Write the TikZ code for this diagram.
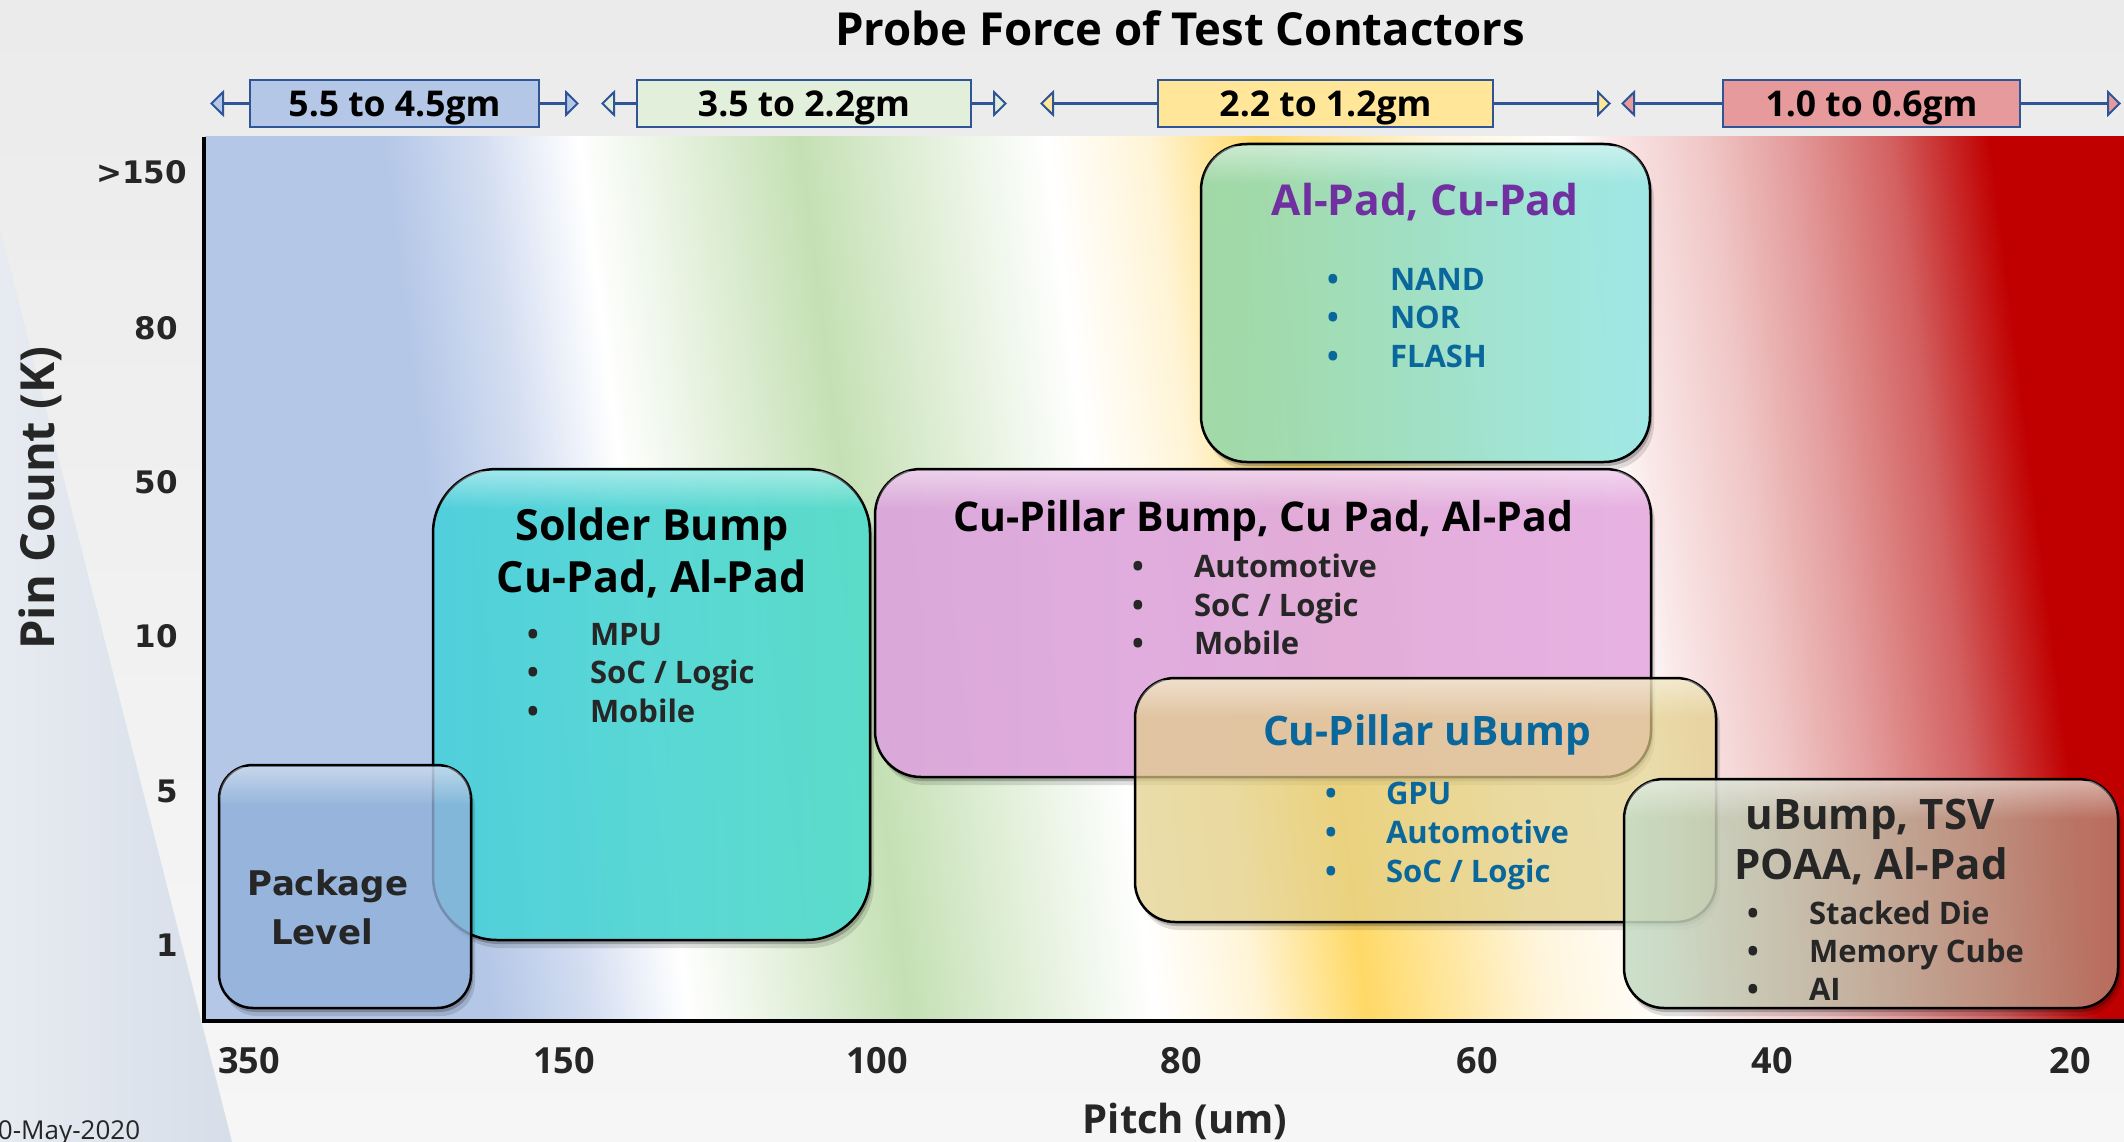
\documentclass[tikz,border=0pt]{standalone}
\usepackage{fontspec}
\setmainfont{Open Sans}
\newfontfamily\wideface{DejaVu Sans}
\usetikzlibrary{arrows.meta,fadings}

% page and plot colours
\definecolor{pageTop}{HTML}{EBEBEB}
\definecolor{pageBot}{HTML}{F6F6F6}
\definecolor{wedgeA}{HTML}{E7EBF1}
\definecolor{wedgeB}{HTML}{D6DEE9}
\definecolor{bandBlue}{HTML}{B4C7E7}
\definecolor{bandBlueLt}{HTML}{D3DDF1}
\definecolor{bandGreen}{HTML}{C5E0B4}
\definecolor{bandCream}{HTML}{FFF4D6}
\definecolor{bandYellow}{HTML}{FFD966}
\definecolor{bandCreamB}{HTML}{FFF5DC}
\definecolor{bandPinkA}{HTML}{FAE8E8}
\definecolor{bandPinkB}{HTML}{F0C6C6}
\definecolor{bandPinkC}{HTML}{E39A9A}
\definecolor{bandRedA}{HTML}{D36060}
\definecolor{bandRed}{HTML}{C00000}
% force labels
\definecolor{forceEdge}{HTML}{2F5597}
\definecolor{forceA}{HTML}{B4C7E7}
\definecolor{forceB}{HTML}{E2EFDA}
\definecolor{forceC}{HTML}{FFE699}
\definecolor{forceD}{HTML}{E69A9B}
% text
\definecolor{inkdark}{HTML}{262626}
\definecolor{padPurple}{HTML}{7030A0}
\definecolor{appBlue}{HTML}{0A679C}
% technology cards
\definecolor{pkgFill}{HTML}{90B1DA}
\definecolor{solderL}{HTML}{4CD0DC}
\definecolor{solderM}{HTML}{6EE8E8}
\definecolor{solderR}{HTML}{56DCCB}
\definecolor{alpadL}{HTML}{9CD8A6}
\definecolor{alpadM}{HTML}{A0DDC4}
\definecolor{alpadR}{HTML}{9CE8E6}
\definecolor{cupL}{HTML}{DBA6DB}
\definecolor{cupM}{HTML}{EBA4A2}
\definecolor{cupR}{HTML}{E6AEE0}
\definecolor{ubumpFill}{HTML}{E2CF88}
\definecolor{tsvL}{HTML}{C4DCC4}
\definecolor{tsvM}{HTML}{C8AE98}
\definecolor{tsvR}{HTML}{B8806E}

% colour bands of the plot field (positions for a 2600pt wide rectangle)
\pgfdeclarehorizontalshading{plotbands}{100bp}{%
  color(0bp)=(bandBlue); color(35.87bp)=(bandBlue); color(37.71bp)=(bandBlueLt);
  color(39.63bp)=(white); color(43.88bp)=(bandGreen); color(48.62bp)=(white);
  color(50.60bp)=(bandCream); color(52.69bp)=(bandYellow); color(56.17bp)=(bandCreamB);
  color(58.67bp)=(white); color(59.46bp)=(bandPinkA); color(61.33bp)=(bandPinkB);
  color(63.00bp)=(bandPinkC); color(64.88bp)=(bandRedA); color(66.77bp)=(bandRed);
  color(100bp)=(bandRed)}

% light sheen along the top edge of a card
\tikzfading[name=topsheen, top color=transparent!55, bottom color=transparent!100]

% soft shadow below a card, kept outside the card itself
% #1,#2 = top left, #3,#4 = bottom right, #5 = corner radius
\newcommand\cardshadow[5]{%
  \begin{scope}
    \clip (0,0) rectangle (2124,1142) [rounded corners=#5] (#3,#2) rectangle (#1,#4);
    \fill[black, opacity=0.22, rounded corners=#5] (#1+2,#2+4) rectangle (#3+2,#4+4);
    \fill[black, opacity=0.12, rounded corners=#5] (#1+4,#2+8) rectangle (#3+4,#4+8);
  \end{scope}}
\newcommand\cardsheen[5]{%
  \begin{scope}
    \clip[rounded corners=#5] (#1,#2) rectangle (#3,#4);
    \fill[white, path fading=topsheen] (#1,#2+2) rectangle (#3,#2+40);
  \end{scope}}

\begin{document}
\begin{tikzpicture}[x=1pt,y=-1pt,
  every node/.style={inner sep=0pt, outer sep=0pt},
  forcebox/.style={draw=forceEdge, line width=2.5pt, minimum width=#1, minimum height=47pt,
    text height=27pt, text depth=0pt, font=\bfseries\fontsize{35.5}{40}\selectfont},
  fline/.style={draw=forceEdge, line width=3pt},
  forcetip/.style={-{Triangle[length=14pt, width=27pt, line width=2pt, fill=#1]}},
  ylab/.style={font=\wideface\bfseries\fontsize{31}{36}\selectfont, text=inkdark, anchor=base east},
  xlab/.style={font=\bfseries\fontsize{36}{42}\selectfont, text=inkdark, anchor=base},
  card/.style={draw=black, line width=2.5pt, inner sep=0pt},
  cardtitle/.style={font=\bfseries\fontsize{43}{50}\selectfont, anchor=base},
  dot/.style={font=\bfseries\fontsize{31}{36}\selectfont, anchor=base},
  item/.style={font=\bfseries\fontsize{31}{36}\selectfont, anchor=base west},
]
\useasboundingbox (0,0) rectangle (2124,1142);

% page background
\shade[top color=pageTop, bottom color=pageBot] (0,0) rectangle (2124,1142);
\shade[left color=wedgeA, right color=wedgeB] (0,228) -- (232,1142) -- (0,1142) -- cycle;

% plot field with slanted colour bands
\begin{scope}
  \clip (205,137) rectangle (2124,1021);
  \begin{scope}[transform canvas={xslant=-0.125}]
    \shade[shading=plotbands] (-200,120) rectangle (2400,1040);
  \end{scope}
\end{scope}

% axes
\draw[line width=3.5pt, black] (204,137) -- (204,1021) -- (2124,1021);

% chart title
\node[font=\bfseries\fontsize{45.5}{52}\selectfont, anchor=base] (title) at (1180,46) {Probe Force of Test Contactors};

% probe force ranges
\node[forcebox=289pt, fill=forceA] (f1) at (394.5,103.5) {5.5 to 4.5gm};
\node[forcebox=334pt, fill=forceB] (f2) at (804,103.5) {3.5 to 2.2gm};
\node[forcebox=335pt, fill=forceC] (f3) at (1325.5,103.5) {2.2 to 1.2gm};
\node[forcebox=297pt, fill=forceD] (f4) at (1871.5,103.5) {1.0 to 0.6gm};
\coordinate (f1l) at (210,103.5);  \coordinate (f1r) at (579,103.5);
\coordinate (f2l) at (601,103.5);  \coordinate (f2r) at (1007,103.5);
\coordinate (f3l) at (1040,103.5); \coordinate (f3r) at (1611,103.5);
\coordinate (f4l) at (1621,103.5); \coordinate (f4r) at (2121,103.5);
\draw[fline, forcetip=forceA] (f1.west) -- (f1l);
\draw[fline, forcetip=forceA] (f1.east) -- (f1r);
\draw[fline, forcetip=forceB] (f2.west) -- (f2l);
\draw[fline, forcetip=forceB] (f2.east) -- (f2r);
\draw[fline, forcetip=forceC] (f3.west) -- (f3l);
\draw[fline, forcetip=forceC] (f3.east) -- (f3r);
\draw[fline, forcetip=forceD] (f4.west) -- (f4l);
\draw[fline, forcetip=forceD] (f4.east) -- (f4r);

% pin count axis
\node[ylab] (y150) at (187,184) {>150};
\node[ylab] (y80) at (178,339) {80};
\node[ylab] (y50) at (178,493) {50};
\node[ylab] (y10) at (178,647) {10};
\node[ylab] (y5) at (178,802) {5};
\node[ylab] (y1) at (178,956) {1};
\node[font=\bfseries\fontsize{47}{54}\selectfont, text=inkdark, rotate=90, anchor=base] (ytitle) at (54,498) {Pin Count (K)};

% pitch axis
\node[xlab] (x350) at (249,1073) {350};
\node[xlab] (x150) at (564,1073) {150};
\node[xlab] (x100) at (877,1073) {100};
\node[xlab] (x80) at (1181,1073) {80};
\node[xlab] (x60) at (1477,1073) {60};
\node[xlab] (x40) at (1772,1073) {40};
\node[xlab] (x20) at (2070,1073) {20};
\node[font=\bfseries\fontsize{40}{48}\selectfont, text=inkdark, anchor=base] (xtitle) at (1185,1133) {Pitch (um)};

\node[font=\fontsize{26}{30}\selectfont, text=inkdark, anchor=base west] (date) at (-2,1139) {0-May-2020};

% technology cards, back to front
\cardshadow{1201}{144}{1650}{462}{46pt}
\node[card, rounded corners=46pt, minimum width=449pt, minimum height=318pt,
  left color=alpadL, middle color=alpadM, right color=alpadR, fill opacity=0.95] (alpad) at (1425.5,303) {};
\cardsheen{1201}{144}{1650}{462}{46pt}
\cardshadow{433}{469}{870}{940}{64pt}
\node[card, rounded corners=64pt, minimum width=437pt, minimum height=471pt,
  left color=solderL, middle color=solderM, right color=solderR, fill opacity=0.95] (solder) at (651.5,704.5) {};
\cardsheen{433}{469}{870}{940}{64pt}
\cardshadow{219}{765}{471}{1008}{34pt}
\node[card, rounded corners=34pt, minimum width=252pt, minimum height=243pt,
  fill=pkgFill, fill opacity=0.8] (pkg) at (345,886.5) {};
\cardsheen{219}{765}{471}{1008}{34pt}
\cardshadow{875}{469}{1651}{777}{46pt}
\node[card, rounded corners=46pt, minimum width=776pt, minimum height=308pt,
  left color=cupL, middle color=cupM, right color=cupR, fill opacity=0.95] (cup) at (1263,623) {};
\cardsheen{875}{469}{1651}{777}{46pt}
\cardshadow{1135}{678}{1716}{922}{40pt}
\node[card, rounded corners=40pt, minimum width=581pt, minimum height=244pt,
  fill=ubumpFill, fill opacity=0.7] (ubump) at (1425.5,800) {};
\cardsheen{1135}{678}{1716}{922}{40pt}
\cardshadow{1624}{779}{2118}{1008}{40pt}
\node[card, rounded corners=40pt, minimum width=494pt, minimum height=229pt,
  left color=tsvL, middle color=tsvM, right color=tsvR, fill opacity=0.85] (tsv) at (1871,893.5) {};
\cardsheen{1624}{779}{2118}{1008}{40pt}

% card texts
\node[font=\wideface\bfseries\fontsize{34}{40}\selectfont, text=inkdark, anchor=base] (pkg-a) at (328,895) {Package};
\node[font=\wideface\bfseries\fontsize{34}{40}\selectfont, text=inkdark, anchor=base] (pkg-b) at (322,944) {Level};

\node[cardtitle, text=black] (solder-a) at (652,540) {Solder Bump};
\node[cardtitle, text=black] (solder-b) at (652,592) {Cu-Pad, Al-Pad};
\node[dot, text=inkdark] (solder-d1) at (533,645) {•};
\node[dot, text=inkdark] (solder-d2) at (533,683) {•};
\node[dot, text=inkdark] (solder-d3) at (533,722) {•};
\node[item, text=inkdark] (solder-i1) at (590,645) {MPU};
\node[item, text=inkdark] (solder-i2) at (590,683) {SoC / Logic};
\node[item, text=inkdark] (solder-i3) at (590,722) {Mobile};

\node[cardtitle, text=padPurple, font=\bfseries\fontsize{42.5}{50}\selectfont] (alpad-a) at (1425,215) {Al-Pad, Cu-Pad};
\node[dot, text=appBlue] (alpad-d1) at (1333,290) {•};
\node[dot, text=appBlue] (alpad-d2) at (1333,328) {•};
\node[dot, text=appBlue] (alpad-d3) at (1333,367) {•};
\node[item, text=appBlue] (alpad-i1) at (1390,290) {NAND};
\node[item, text=appBlue] (alpad-i2) at (1390,328) {NOR};
\node[item, text=appBlue] (alpad-i3) at (1390,367) {FLASH};

\node[cardtitle, text=black, font=\bfseries\fontsize{41}{48}\selectfont] (cup-a) at (1263,531) {Cu-Pillar Bump, Cu Pad, Al-Pad};
\node[dot, text=inkdark] (cup-d1) at (1138,577) {•};
\node[dot, text=inkdark] (cup-d2) at (1138,616) {•};
\node[dot, text=inkdark] (cup-d3) at (1138,654) {•};
\node[item, text=inkdark] (cup-i1) at (1194,577) {Automotive};
\node[item, text=inkdark] (cup-i2) at (1194,616) {SoC / Logic};
\node[item, text=inkdark] (cup-i3) at (1194,654) {Mobile};

\node[cardtitle, text=appBlue, font=\bfseries\fontsize{40.6}{48}\selectfont] (ubump-a) at (1427,745) {Cu-Pillar uBump};
\node[dot, text=appBlue] (ubump-d1) at (1331,804) {•};
\node[dot, text=appBlue] (ubump-d2) at (1331,843) {•};
\node[dot, text=appBlue] (ubump-d3) at (1331,882) {•};
\node[item, text=appBlue] (ubump-i1) at (1386,804) {GPU};
\node[item, text=appBlue] (ubump-i2) at (1386,843) {Automotive};
\node[item, text=appBlue] (ubump-i3) at (1386,882) {SoC / Logic};

\node[cardtitle, text=inkdark, font=\bfseries\fontsize{42}{48}\selectfont] (tsv-a) at (1870,829) {uBump, TSV};
\node[cardtitle, text=inkdark, font=\bfseries\fontsize{42}{48}\selectfont] (tsv-b) at (1871,879) {POAA, Al-Pad};
\node[dot, text=inkdark] (tsv-d1) at (1753,924) {•};
\node[dot, text=inkdark] (tsv-d2) at (1753,962) {•};
\node[dot, text=inkdark] (tsv-d3) at (1753,1000) {•};
\node[item, text=inkdark] (tsv-i1) at (1809,924) {Stacked Die};
\node[item, text=inkdark] (tsv-i2) at (1809,962) {Memory Cube};
\node[item, text=inkdark] (tsv-i3) at (1809,1000) {AI};
\end{tikzpicture}
\end{document}
